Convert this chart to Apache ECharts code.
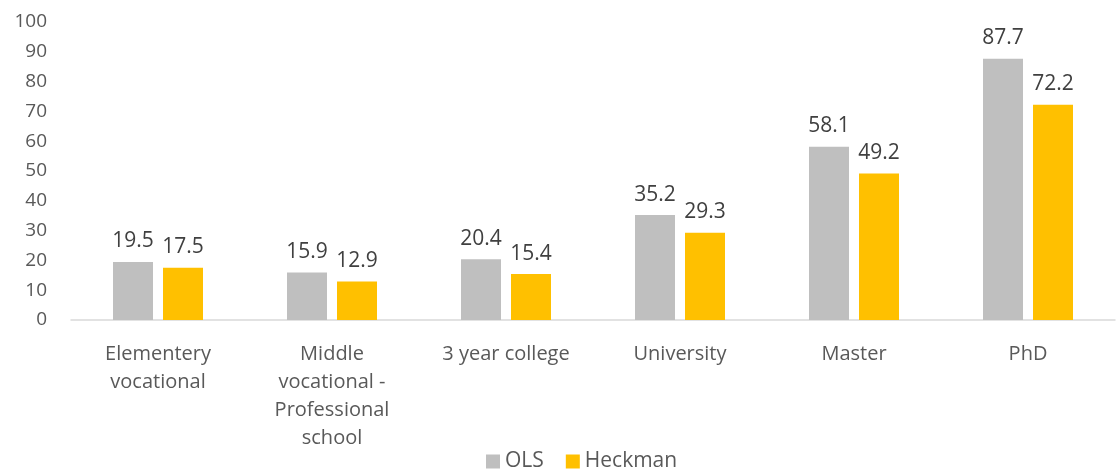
<!DOCTYPE html>
<html>
<head>
<meta charset="utf-8">
<script src="https://cdn.jsdelivr.net/npm/echarts@6/dist/echarts.min.js"></script>
<style>
html,body{margin:0;padding:0;background:#fff;}
#main{width:1117px;height:473px;}
</style>
</head>
<body>
<div id="main"></div>
<script>
var categories = ['Elementery\nvocational', 'Middle\nvocational -\nProfessional\nschool', '3 year college', 'University', 'Master', 'PhD'];
var olsValues = [19.5, 15.9, 20.4, 35.2, 58.1, 87.7];
var heckmanValues = [17.5, 12.9, 15.4, 29.3, 49.2, 72.2];

var myChart = echarts.init(document.getElementById('main'));
var font = '"Open Sans", sans-serif';

var option = {
    animation: false,
    textStyle: {fontFamily: font},
    legend: {
        bottom: -4,
        left: 481,
        itemWidth: 14,
        itemHeight: 14,
        itemGap: 22,
        icon: 'rect',
        textStyle: {color: '#595959', fontSize: 21, fontFamily: font},
        data: ['OLS', 'Heckman']
    },
    grid: {
        left: 71,
        right: 2,
        top: 22,
        bottom: 153
    },
    xAxis: {
        type: 'category',
        data: categories,
        axisLine: {lineStyle: {color: '#d9d9d9', width: 1.5}},
        axisTick: {show: false},
        axisLabel: {
            color: '#595959',
            fontSize: 20,
            fontFamily: font,
            lineHeight: 28,
            margin: 20,
            interval: 0
        }
    },
    yAxis: {
        type: 'value',
        min: 0,
        max: 100,
        interval: 10,
        splitLine: {show: false},
        axisLine: {show: false},
        axisTick: {show: false},
        axisLabel: {color: '#595959', fontSize: 19, fontFamily: font, margin: 24}
    },
    series: [
        {
            name: 'OLS',
            type: 'bar',
            data: olsValues,
            barWidth: 40,
            barGap: '25%',
            itemStyle: {color: '#bfbfbf'},
            label: {show: true, position: 'top', distance: 10, color: '#404040', fontSize: 21, fontFamily: font}
        },
        {
            name: 'Heckman',
            type: 'bar',
            data: heckmanValues,
            barWidth: 40,
            itemStyle: {color: '#ffc000'},
            label: {show: true, position: 'top', distance: 10, color: '#404040', fontSize: 21, fontFamily: font}
        }
    ]
};

myChart.setOption(option);
</script>
</body>
</html>
